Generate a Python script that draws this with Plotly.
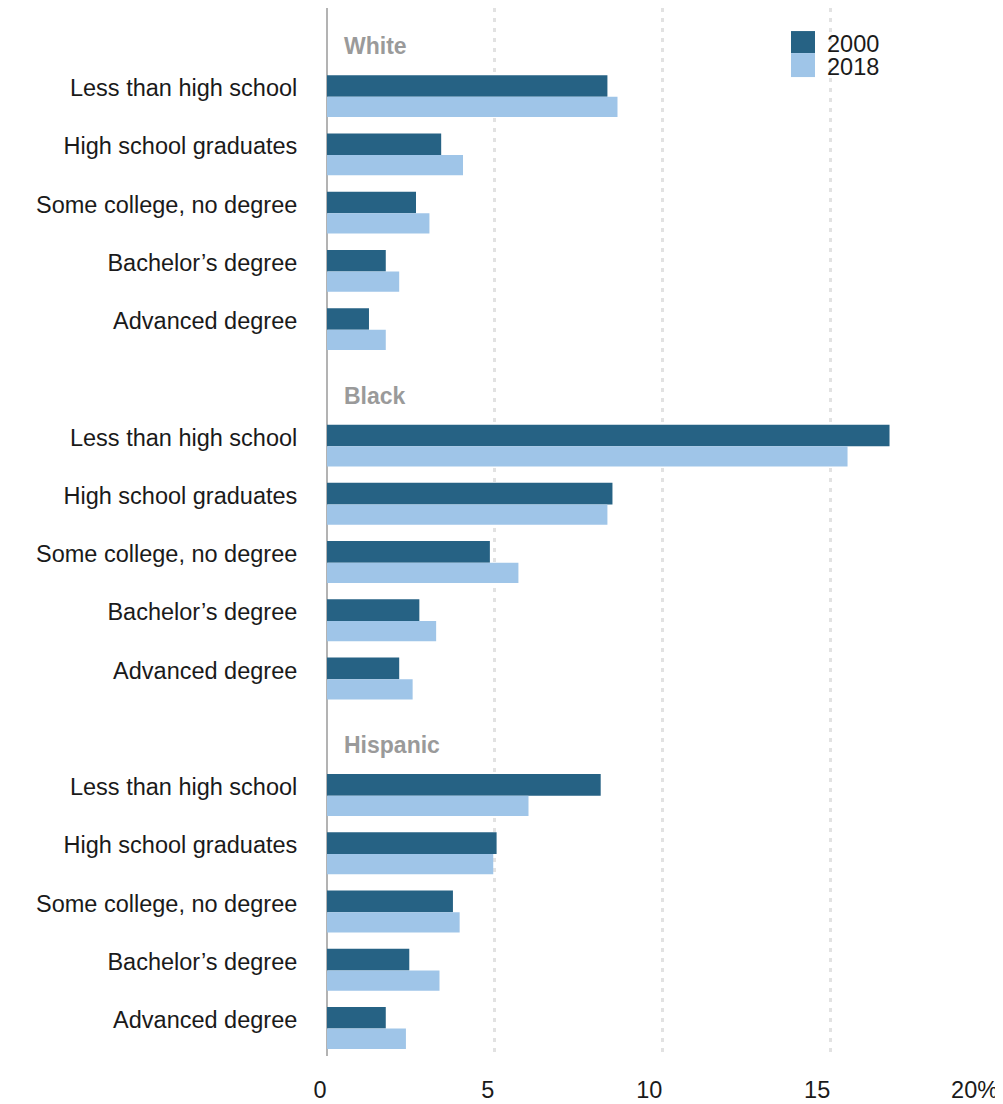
import plotly.graph_objects as go

groups = ["White", "Black", "Hispanic"]
categories = ["Less than high school", "High school graduates", "Some college, no degree",
              "Bachelor’s degree", "Advanced degree"]
vals_2000 = {
    "White": [8.35, 3.4, 2.65, 1.75, 1.25],
    "Black": [16.75, 8.5, 4.85, 2.75, 2.15],
    "Hispanic": [8.15, 5.05, 3.75, 2.45, 1.75],
}
vals_2018 = {
    "White": [8.65, 4.05, 3.05, 2.15, 1.75],
    "Black": [15.5, 8.35, 5.7, 3.25, 2.55],
    "Hispanic": [6.0, 4.95, 3.95, 3.35, 2.35],
}
x_tickvals = [0, 5, 10, 15, 20]
x_ticktext = ["0", "5", "10", "15", "20%"]

C2000 = "#266284"
C2018 = "#9fc5e8"
FONT = "Liberation Sans, Arial, sans-serif"
FS = 23.5

pos, labels, v00, v18 = [], [], [], []
for gi, g in enumerate(groups):
    for ci, c in enumerate(categories):
        pos.append(gi * 6 + ci)
        labels.append(c)
        v00.append(vals_2000[g][ci])
        v18.append(vals_2018[g][ci])

fig = go.Figure()
fig.add_trace(go.Bar(x=v00, y=pos, orientation="h", name="2000", marker_color=C2000,
                     marker_line_width=0, offset=-0.22, width=0.37, showlegend=False))
fig.add_trace(go.Bar(x=v18, y=pos, orientation="h", name="2018", marker_color=C2018,
                     marker_line_width=0, offset=0.15, width=0.35, showlegend=False))

annotations = []
for gi, g in enumerate(groups):
    annotations.append(dict(x=0, y=gi * 6 - 0.72, xref="x", yref="y", text="<b>%s</b>" % g,
                            showarrow=False, xanchor="left", yanchor="middle", xshift=15,
                            font=dict(family=FONT, size=23, color="#9a9a9a")))
# legend
shapes = [
    dict(type="rect", xref="paper", yref="paper", x0=0.6905, x1=0.7262, y0=0.9570, y1=0.9780,
         fillcolor=C2000, line=dict(width=0)),
    dict(type="rect", xref="paper", yref="paper", x0=0.6905, x1=0.7262, y0=0.9341, y1=0.9570,
         fillcolor=C2018, line=dict(width=0)),
]
for txt, yy in [("2000", 0.9656), ("2018", 0.9437)]:
    annotations.append(dict(x=0.743, y=yy, xref="paper", yref="paper", text=txt, showarrow=False,
                            xanchor="left", yanchor="middle", borderpad=0,
                            font=dict(family=FONT, size=FS, color="#1a1a1a")))

fig.update_layout(
    width=995, height=1096,
    margin=dict(l=319, r=3.5, t=0, b=48),
    plot_bgcolor="white", paper_bgcolor="white",
    barmode="overlay",
    font=dict(family=FONT, size=FS, color="#1a1a1a"),
    annotations=annotations, shapes=shapes,
    xaxis=dict(range=[0, 20.01], tickvals=x_tickvals, ticktext=x_ticktext,
               ticklabelposition="outside left", ticklabelstandoff=13,
               showgrid=True, gridcolor="#e2e2e2", gridwidth=3, griddash="4px,6px",
               zeroline=True, zerolinecolor="#b3b3b3", zerolinewidth=2,
               showline=False, ticks="outside", ticklen=33, tickcolor="rgba(0,0,0,0)",
               tickfont=dict(family=FONT, size=FS, color="#1a1a1a"), fixedrange=True),
    yaxis=dict(range=[16.62, -1.373], tickvals=pos, ticktext=labels,
               showgrid=False, zeroline=False, showline=False,
               ticks="outside", ticklen=24, tickcolor="rgba(0,0,0,0)",
               tickfont=dict(family=FONT, size=FS, color="#1a1a1a"), fixedrange=True),
)

fig.write_html("out.html")
